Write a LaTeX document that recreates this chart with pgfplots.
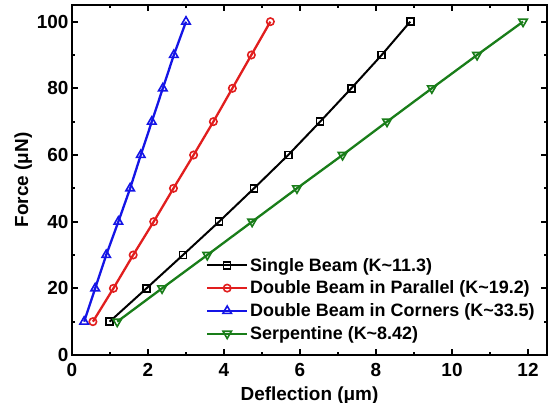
\documentclass[border=0pt]{standalone}
\usepackage{pgfplots}
\pgfplotsset{compat=1.18}
\usepackage{fontspec}
\setmainfont{Liberation Sans}
\usetikzlibrary{plotmarks}

\definecolor{cblue}{RGB}{20,20,230}
\definecolor{cred}{RGB}{225,30,30}
\definecolor{cgreen}{RGB}{25,125,25}

\begin{document}
\begin{tikzpicture}
  \path[use as bounding box] (-72bp,-48bp) rectangle (481bp,355bp);
  \begin{axis}[
      scale only axis,
      width=475bp, height=350bp,
      xmin=0, xmax=12.5,
      ymin=0, ymax=105,
      xtick={0,2,...,12},
      ytick={0,20,...,100},
      minor x tick num=1,
      minor y tick num=1,
      tick align=inside,
      major tick length=6bp,
      minor tick length=3.5bp,
      every tick/.style={line width=1.8bp, black},
      axis line style={line width=2.8bp},
      tick label style={font=\fontsize{19}{22}\selectfont\bfseries},
      xticklabel style={yshift=-5bp},
      /pgf/number format/assume math mode=true,
      xlabel={Deflection (μm)},
      ylabel={Force (μN)},
      label style={font=\fontsize{19}{22}\selectfont\bfseries},
      xlabel style={yshift=-3bp},
      ylabel style={yshift=-2bp},
      legend cell align=left,
      legend style={draw=none, fill=none, at={(0.28,0.286)}, anchor=north west,
        font=\fontsize{18}{21}\selectfont\bfseries, row sep=4.3bp, inner sep=1bp},
      legend image code/.code={\draw[mark repeat=2,mark phase=2]
        plot coordinates {(0cm,0cm) (0.7cm,0cm) (1.4cm,0cm)};},
    ]
    \addplot[black, line width=2bp, mark=square, mark size=3.5bp,
      mark options={fill=white, solid, line width=1.6bp}]
      coordinates {
        (0.99,10) (1.96,20) (2.92,30) (3.87,40) (4.79,50)
        (5.69,60) (6.53,70) (7.35,80) (8.15,90) (8.90,100)
      };
    \addlegendentry{Single Beam (K\textasciitilde 11.3)}
    \addplot[cred, line width=2.3bp, mark=o, mark size=3.7bp,
      mark options={fill=white, solid, line width=1.6bp}]
      coordinates {
        (0.55,10) (1.09,20) (1.61,30) (2.15,40) (2.67,50)
        (3.20,60) (3.72,70) (4.22,80) (4.72,90) (5.22,100)
      };
    \addlegendentry{Double Beam in Parallel (K\textasciitilde 19.2)}
    \addplot[cblue, line width=2.3bp, mark=triangle, mark size=4.9bp,
      mark options={fill=white, solid, line width=1.6bp}]
      coordinates {
        (0.32,10) (0.61,20) (0.90,30) (1.22,40) (1.53,50)
        (1.81,60) (2.10,70) (2.39,80) (2.68,90) (3.00,100)
      };
    \addlegendentry{Double Beam in Corners (K\textasciitilde 33.5)}
    \addplot[cgreen, line width=2.3bp, mark=triangle, mark size=4.9bp,
      mark options={fill=white, solid, line width=1.6bp, rotate=180}]
      coordinates {
        (1.19,10) (2.37,20) (3.56,30) (4.74,40) (5.92,50)
        (7.12,60) (8.29,70) (9.47,80) (10.66,90) (11.87,100)
      };
    \addlegendentry{Serpentine (K\textasciitilde 8.42)}
  \end{axis}
\end{tikzpicture}
\end{document}
